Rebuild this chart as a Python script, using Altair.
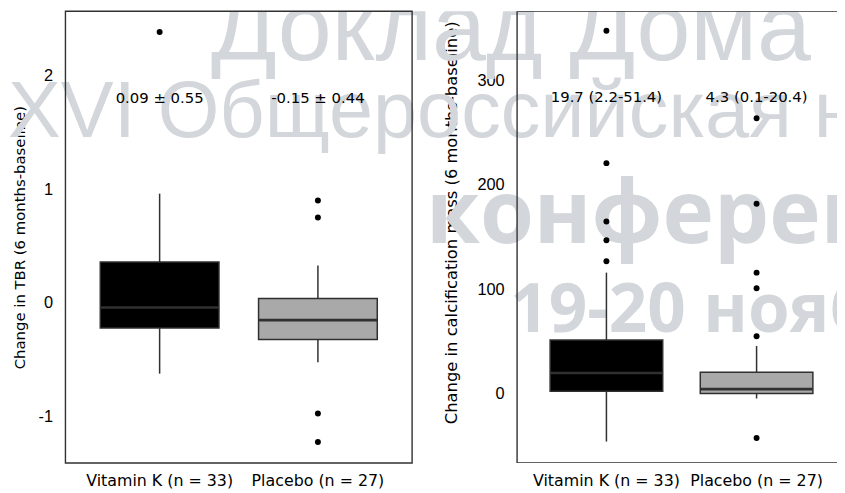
import altair as alt
import pandas as pd

# ------------------------------------------------------------------ data
GROUPS = ["Vitamin K (n = 33)", "Placebo (n = 27)"]
BOX_FILLS = ["#000000", "#a9a9a9"]

# Left panel: change in TBR (6 months - baseline)
TBR_Q1 = [-0.22, -0.32]
TBR_MEDIAN = [-0.04, -0.15]
TBR_Q3 = [0.36, 0.04]
TBR_WHISKER_LO = [-0.62, -0.52]
TBR_WHISKER_HI = [0.96, 0.33]
TBR_OUTLIER_GROUP = [GROUPS[0], GROUPS[1], GROUPS[1], GROUPS[1], GROUPS[1]]
TBR_OUTLIER_VALUE = [2.38, 0.90, 0.75, -0.97, -1.22]
TBR_ANNOTATION = ["0.09 ± 0.55", "-0.15 ± 0.44"]
TBR_ANNOTATION_AT = 1.80
TBR_TICKS = [-1, 0, 1, 2]
TBR_DOMAIN = [-1.404, 2.561]
TBR_TITLE = "Change in TBR (6 months-baseline)"

# Right panel: change in calcification mass (6 months - baseline)
CAL_Q1 = [2.2, 0.1]
CAL_MEDIAN = [19.7, 4.3]
CAL_Q3 = [51.4, 20.4]
CAL_WHISKER_LO = [-46.0, -4.7]
CAL_WHISKER_HI = [116.0, 45.6]
CAL_OUTLIER_GROUP = [GROUPS[0]] * 5 + [GROUPS[1]] * 6
CAL_OUTLIER_VALUE = [127, 147, 165, 221, 348, 55, 101, 116, 182, 264, -42.5]
CAL_ANNOTATION = ["19.7 (2.2-51.4)", "4.3 (0.1-20.4)"]
CAL_ANNOTATION_AT = 284
CAL_TICKS = [0, 100, 200, 300]
CAL_DOMAIN = [-66.5, 366.6]
CAL_TITLE = "Change in calcification mass (6 months-baseline)"

# background watermark lines
WATERMARK = ["Доклад Дома", "XVI Общероссийская н", "конференция", "19-20 ноября"]

# ------------------------------------------------------------------ style
FONT = "DejaVu Sans"
TICK_FONT = "Liberation Sans"
INK = "#000000"
LINE = "#303030"
WM_COLOR = "#d3d6da"
W, H = 837, 456


def panel(q1, med, q3, lo, hi, out_g, out_v, annots, annot_at, domain, ticks,
          title, title_size, x_range, axis_x, title_x, title_y):
    boxes = pd.DataFrame({"group": GROUPS, "q1": q1, "med": med, "q3": q3,
                          "lo": lo, "hi": hi, "fill": BOX_FILLS, "annot": annots})
    outliers = pd.DataFrame({"group": out_g, "value": out_v})

    xscale = alt.Scale(domain=GROUPS, range=x_range, paddingInner=0.25, paddingOuter=0.22)
    xaxis = alt.Axis(orient="bottom", title=None, domain=False, ticks=False, tickSize=0,
                     grid=False, labelAngle=0, labelPadding=10, labelFont=FONT,
                     labelFontSize=16, labelColor=INK)
    yscale = alt.Scale(domain=domain, nice=False, zero=False)
    yaxis = alt.Axis(orient="left", offset=-axis_x, values=ticks,
                     labelExpr="'' + datum.value", domain=False, ticks=False,
                     tickSize=0, grid=False, labelPadding=13, labelFont=TICK_FONT,
                     labelFontSize=16.5, labelColor=INK, title=title, titleFont=FONT,
                     titleFontSize=title_size, titleFontWeight="normal", titleColor=INK,
                     titleX=title_x, titleY=title_y, titleBaseline="middle")

    X = alt.X("group:N", scale=xscale, axis=xaxis)

    base = alt.Chart(boxes)
    box = base.mark_bar(stroke=LINE, strokeWidth=1.5).encode(
        x=X,
        y=alt.Y("q1:Q", scale=yscale, axis=yaxis),
        y2="q3:Q",
        color=alt.Color("fill:N", scale=None),
    )
    median = base.mark_bar(fillOpacity=0, stroke=LINE, strokeWidth=2.6).encode(
        x=X, y=alt.Y("med:Q", scale=yscale, axis=yaxis), y2="med:Q"
    )
    whisk_lo = base.mark_rule(color=LINE, strokeWidth=1.5).encode(
        x=X, y=alt.Y("lo:Q", scale=yscale, axis=yaxis), y2="q1:Q"
    )
    whisk_hi = base.mark_rule(color=LINE, strokeWidth=1.5).encode(
        x=X, y=alt.Y("q3:Q", scale=yscale, axis=yaxis), y2="hi:Q"
    )
    points = alt.Chart(outliers).mark_circle(size=36, color=INK, opacity=1).encode(
        x=X, y=alt.Y("value:Q", scale=yscale, axis=yaxis)
    )
    text = base.mark_text(font=FONT, fontSize=15, color=INK, baseline="middle").encode(
        x=X, y=alt.YDatum(annot_at, scale=yscale, axis=yaxis), text="annot:N"
    )
    return alt.layer(whisk_lo, whisk_hi, box, median, points, text)


def watermark(txt, x, y, size, font, weight):
    return alt.Chart(pd.DataFrame({"t": [txt]})).mark_text(
        align="left", baseline="alphabetic", font=font, fontSize=size,
        fontWeight=weight, color=WM_COLOR, clip=True
    ).encode(text="t:N", x=alt.value(x), y=alt.value(y))


def frame(x0, x1, clip):
    return alt.Chart(pd.DataFrame({"f": [0]})).mark_rect(
        fillOpacity=0, stroke=LINE, strokeWidth=1.4, clip=clip
    ).encode(x=alt.value(x0), x2=alt.value(x1), y=alt.value(0), y2=alt.value(H))


wm = [
    watermark(WATERMARK[0], 205, 49, 98, "Liberation Sans", "normal"),
    watermark(WATERMARK[1], 0, 127, 80, "Liberation Sans", "normal"),
    watermark(WATERMARK[2], 422, 234, 88, "Open Sans", "bold"),
    watermark(WATERMARK[3], 507, 324, 68, "Open Sans", "bold"),
]

left = panel(TBR_Q1, TBR_MEDIAN, TBR_Q3, TBR_WHISKER_LO, TBR_WHISKER_HI,
             TBR_OUTLIER_GROUP, TBR_OUTLIER_VALUE, TBR_ANNOTATION, TBR_ANNOTATION_AT,
             TBR_DOMAIN, TBR_TICKS, TBR_TITLE, 15, [58, 408], 58, -46, 228)
right = panel(CAL_Q1, CAL_MEDIAN, CAL_Q3, CAL_WHISKER_LO, CAL_WHISKER_HI,
              CAL_OUTLIER_GROUP, CAL_OUTLIER_VALUE, CAL_ANNOTATION, CAL_ANNOTATION_AT,
              CAL_DOMAIN, CAL_TICKS, CAL_TITLE, 16.5, [514, 846], 514, -66, 213)

chart = alt.layer(
    *wm, frame(58, 408, False), frame(514, 850, True), left, right
).resolve_scale(x="independent", y="independent").properties(
    width=W, height=H, padding={"left": 0, "top": 0, "right": 0, "bottom": 0},
    background="white",
).configure_view(stroke=None)

chart.save("out.html", embed_options={"renderer": "svg", "actions": False})
